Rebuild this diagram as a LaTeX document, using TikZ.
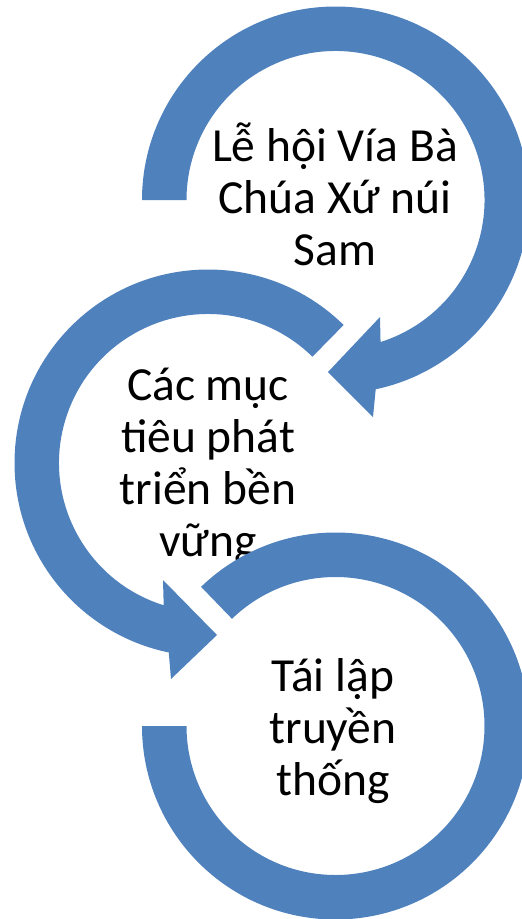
\documentclass[tikz,border=0pt]{standalone}
\usepackage{fontspec}
\setmainfont{Carlito}
\usetikzlibrary{calc}
\definecolor{arrowblue}{RGB}{79,129,189}
\tikzset{
  ringfill/.style={fill=arrowblue},
  label/.style={align=center, text=black, inner sep=0pt, anchor=base,
    font=\fontsize{47.5}{52}\selectfont}
}
\begin{document}
\begin{tikzpicture}[x=1pt,y=1pt]
\useasboundingbox (0,0) rectangle (522,-919);
\clip (0,0) rectangle (522,-919);
\coordinate (c1) at (335.5,-200);
\coordinate (c2) at (208,-463);
\coordinate (c3) at (335.5,-726);
% top arrow
\fill[ringfill] ($(c1)+(180:193.5)$) arc[start angle=180, end angle=-78, radius=193.5]
  -- (373,-417) -- (328,-372) -- (380,-317)
  -- ($(c1)+(-72.4:149)$) arc[start angle=-72.4, end angle=180, radius=149] -- cycle;
\node[label] (t1) at (335,-265) {Lễ hội Vía Bà\\Chúa Xứ núi\\Sam};
% middle arrow
\fill[ringfill] ($(c2)+(45.5:193.5)$) arc[start angle=45.5, end angle=258.3, radius=193.5]
  -- (171,-679) -- (217,-635) -- (163,-580)
  -- ($(c2)+(252.7:149)$) arc[start angle=252.7, end angle=45.5, radius=149] -- cycle;
\node[label] (t2) at (208,-556) {Các mục\\tiêu phát\\triển bền\\vững};
% bottom arc
\fill[ringfill] ($(c3)+(180:193.5)$) arc[start angle=180, end angle=494, radius=193.5]
  -- ($(c3)+(494:149)$) arc[start angle=494, end angle=180, radius=149] -- cycle;
\node[label] (t3) at (333,-795) {Tái lập\\truyền\\thống};
\end{tikzpicture}
\end{document}
